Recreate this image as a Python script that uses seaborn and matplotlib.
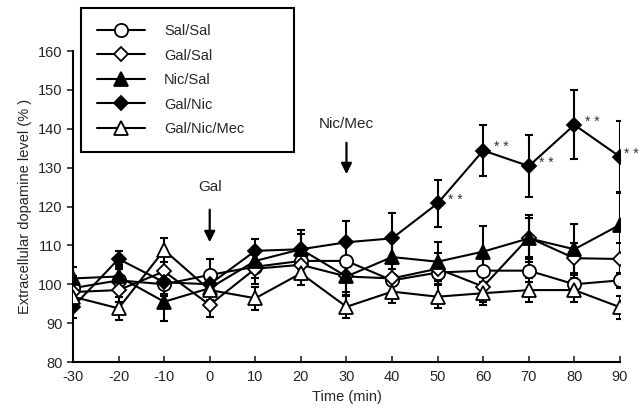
import numpy as np
import pandas as pd
import matplotlib
matplotlib.use("Agg")
import matplotlib.pyplot as plt
import seaborn as sns

# time points (min)
time = [-30, -20, -10, 0, 10, 20, 30, 40, 50, 60, 70, 80, 90]

# group means (% of baseline)
sal_sal = [99, 101, 100, 102.4, 104.5, 106, 106, 101, 103, 103.5, 103.5, 100, 101]
gal_sal = [98, 98.5, 103.3, 94.7, 104, 105, 102, 101.5, 104, 99.4, 112, 106.7, 106.5]
nic_sal = [101.5, 102, 95.5, 99, 106, 109, 102, 107, 105.8, 108.4, 111.8, 109, 115.3]
gal_nic = [94.2, 106.5, 100.5, 100, 108.6, 109, 110.8, 111.8, 120.8, 134.4, 130.4, 141, 132.8]
gal_nic_mec = [96.8, 93.8, 108.8, 98.5, 96.4, 102.8, 94.2, 98.1, 96.8, 97.7, 98.5, 98.5, 94.1]

# SEM
sal_sal_err = [3, 3, 3, 4, 3, 3, 4, 3, 3, 3, 3, 3, 2]
gal_sal_err = [4, 3, 4, 3, 4, 4, 4, 4, 4, 4, 5, 4, 4]
nic_sal_err = [3, 3, 5, 3, 3, 4, 5, 5, 5, 6.6, 6, 6.5, 8.3]
gal_nic_err = [3, 2, 3, 3, 3, 5, 5.4, 6.6, 6, 6.6, 7.9, 8.9, 9.1]
gal_nic_mec_err = [3, 3, 3, 3, 3, 3, 3, 3, 3, 3, 3, 3, 3]

groups = ["Sal/Sal", "Gal/Sal", "Nic/Sal", "Gal/Nic", "Gal/Nic/Mec"]

# significance marks on Gal/Nic
star_time = [50, 60, 70, 80, 90]
star_label = ["* *", "* *", "* *", "* *", "* *"]

sns.set_style("ticks")
plt.rcParams["font.family"] = ["Liberation Sans", "DejaVu Sans"]
plt.rcParams["axes.unicode_minus"] = False

means = [sal_sal, gal_sal, nic_sal, gal_nic, gal_nic_mec]
errs = [sal_sal_err, gal_sal_err, nic_sal_err, gal_nic_err, gal_nic_mec_err]
styles = {
    "Sal/Sal": dict(marker="o", mfc="white", ms=9.5),
    "Gal/Sal": dict(marker="D", mfc="white", ms=7),
    "Nic/Sal": dict(marker="^", mfc="black", ms=9.5),
    "Gal/Nic": dict(marker="D", mfc="black", ms=7.5),
    "Gal/Nic/Mec": dict(marker="^", mfc="white", ms=9.5),
}

fig = plt.figure(figsize=(6.39, 4.09), dpi=100)
ax = fig.add_axes([0.1142, 0.1149, 0.856, 0.7604])

for name, m, e in zip(groups, means, errs):
    st = styles[name]
    ax.errorbar(time, m, yerr=e, fmt="none", ecolor="black", elinewidth=1.5,
                capsize=3, capthick=1.5, zorder=2)
    sns.lineplot(x=time, y=m, ax=ax, color="black", linewidth=1.5,
                 marker=st["marker"], markersize=st["ms"],
                 markerfacecolor=st["mfc"], markeredgecolor="black",
                 markeredgewidth=1.3, label=name, zorder=3)

# significance asterisks (last one sits tight against the right edge)
for t, lab in zip(star_time, star_label):
    i = time.index(t)
    dx = 0.9 if t == 90 else 2.3
    ax.text(t + dx, gal_nic[i] + 0.8, lab, fontsize=10, ha="left", va="center",
            color="#333333", clip_on=False)

# treatment arrows
ax.annotate("", xy=(0, 110.1), xytext=(0, 119.9),
            arrowprops=dict(arrowstyle="-|>", color="black", lw=1.6,
                            mutation_scale=16))
ax.text(0, 125, "Gal", fontsize=11, ha="center", va="center")
ax.annotate("", xy=(30, 127.6), xytext=(30, 137.1),
            arrowprops=dict(arrowstyle="-|>", color="black", lw=1.6,
                            mutation_scale=16))
ax.text(30, 141.2, "Nic/Mec", fontsize=11, ha="center", va="center")

ax.set_xlim(-30, 90)
ax.set_ylim(80, 160)
ax.set_xticks(time)
ax.set_yticks(range(80, 161, 10))
ax.tick_params(axis="x", direction="in", length=4, width=1.2, labelsize=10.5, pad=6)
ax.tick_params(axis="y", direction="out", length=4, width=1.2, labelsize=10.5)
ax.set_xlabel("Time (min)", fontsize=10.5)
ax.set_ylabel("Extracellular dopamine level (% )", fontsize=10.5)
for s in ["top", "right"]:
    ax.spines[s].set_visible(False)
for s in ["left", "bottom"]:
    ax.spines[s].set_linewidth(1.5)
    ax.spines[s].set_color("black")

leg = ax.legend(loc="upper left",
                bbox_to_anchor=(81 / 639, 1 - 153 / 409, 213 / 639, 145 / 409),
                bbox_transform=fig.transFigure, mode="expand", fontsize=10.5,
                frameon=True, fancybox=False, edgecolor="black",
                handlelength=3.3, handletextpad=1.3, labelspacing=0.72,
                borderpad=1.1, borderaxespad=0)
leg.get_frame().set_linewidth(1.5)
leg.get_frame().set_alpha(1)

fig.savefig("out.png", dpi=100)
